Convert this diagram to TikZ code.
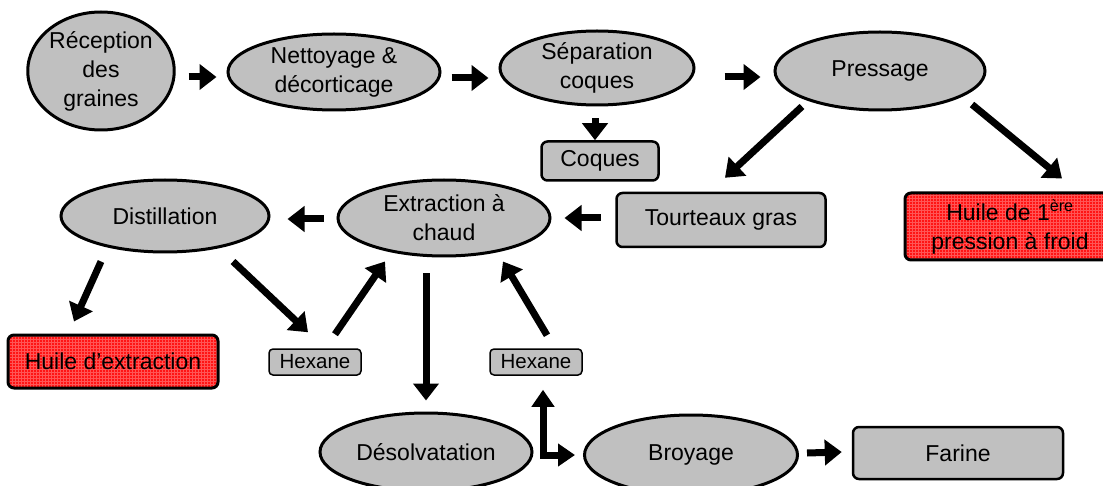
\documentclass[tikz,border=0pt]{standalone}
\usepackage{fontspec}
\setmainfont{Liberation Sans}
\usetikzlibrary{arrows.meta,shapes.geometric,patterns}
\definecolor{shgray}{RGB}{192,192,192}
\definecolor{boxred}{RGB}{255,20,20}
\definecolor{gridred}{RGB}{255,85,85}
\begin{document}
\begin{tikzpicture}[x=1pt,y=-1pt,
  every node/.style={font=\fontsize{23}{29}\selectfont, align=center, inner sep=0pt},
  proc/.style={ellipse, draw, line width=3pt, fill=shgray},
  gbox/.style={rectangle, rounded corners=6pt, draw, line width=2.5pt, fill=shgray},
  rbox/.style={rectangle, rounded corners=6pt, draw, line width=3pt, preaction={fill=boxred}, pattern=grid, pattern color=gridred},
  hbox/.style={rectangle, rounded corners=4pt, draw, line width=1.5pt, fill=shgray, font=\fontsize{20.5}{24}\selectfont},
  arr/.style={line width=7pt, -{Triangle[length=17pt,width=25pt]}},
  arrtwo/.style={line width=7pt, {Triangle[length=17pt,width=22pt]}-{Triangle[length=17pt,width=22pt]}}
]
\useasboundingbox (0,0) rectangle (1103,486);

% process ellipses
\node[proc, minimum width=132pt, minimum height=118pt] (rec) at (101,71) {Réception\\des\\graines};
\node[proc, minimum width=212pt, minimum height=76pt] (net) at (334,72) {Nettoyage \&\\décorticage};
\node[proc, minimum width=194pt, minimum height=74pt] (sep) at (597,68) {Séparation\\coques};
\node[proc, minimum width=210pt, minimum height=78pt] (pre) at (880,71) {Pressage};
\node[proc, minimum width=208pt, minimum height=72pt] (dist) at (165,216) {Distillation};
\node[proc, minimum width=212pt, minimum height=76pt] (ext) at (444,218) {Extraction à\\chaud};
\node[proc, minimum width=212pt, minimum height=78pt] (des) at (426,452) {Désolvatation};
\node[proc, minimum width=213pt, minimum height=80pt] (broy) at (691,455) {Broyage};

% boxes
\node[gbox, minimum width=117pt, minimum height=39pt] (coq) at (600,161) {Coques};
\node[gbox, minimum width=209pt, minimum height=54pt] (tour) at (721,220) {Tourteaux gras};
\node[rbox, minimum width=210pt, minimum height=67pt] (hone) at (1010,226.5) {Huile de 1\textsuperscript{ère}\\pression à froid};
\node[rbox, minimum width=210pt, minimum height=53pt] (hext) at (113,361.5) {Huile d’extraction};
\node[hbox, minimum width=92pt, minimum height=26pt] (hexa) at (315,362) {Hexane};
\node[hbox, minimum width=92pt, minimum height=26pt] (hexb) at (536,362) {Hexane};
\node[gbox, minimum width=210pt, minimum height=52pt] (far) at (958,453) {Farine};

% connectors
\draw[arr] ([shift={(13,6)}]rec.east) -- ([shift={(-10,5)}]net.west);
\draw[arr] ([shift={(10,6)}]net.east) -- ([shift={(-10,10)}]sep.west);
\draw[arr] ([shift={(29,9)}]sep.east) -- ([shift={(-13,6)}]pre.west);
\draw[arr] ([shift={(-2,12)}]sep.south) -- ([shift={(-5,0)}]coq.north);
\draw[arr] ([shift={(-78,-5)}]pre.south) -- ([shift={(4,-14)}]tour.north);
\draw[arr] ([shift={(92,-7)}]pre.south) -- ([shift={(52,-13)}]hone.north);
\draw[arr] ([shift={(-14.5,-2)}]tour.west) -- ([shift={(13,0)}]ext.east);
\draw[arr] ([shift={(-13,1)}]ext.west) -- ([shift={(17,3)}]dist.east);
\draw[arr] ([shift={(-64,8)}]dist.south) -- ([shift={(-39,-12)}]hext.north);
\draw[arr] ([shift={(68,8)}]dist.south) -- ([shift={(-7,-16)}]hexa.north);
\draw[arr] ([shift={(20,-14)}]hexa.north) -- ([shift={(-59,4)}]ext.south);
\draw[arr] ([shift={(-18,16)}]ext.south) -- ([shift={(0,-11)}]des.north);
\draw[arr] ([shift={(11,-13)}]hexb.north) -- ([shift={(59,4)}]ext.south);
\draw[arrtwo] ([shift={(7,14)}]hexb.south) |- ([shift={(-8,0)}]broy.west);
\draw[arr] ([shift={(8,-2)}]broy.east) -- ([shift={(-10,-1)}]far.west);
\end{tikzpicture}
\end{document}
